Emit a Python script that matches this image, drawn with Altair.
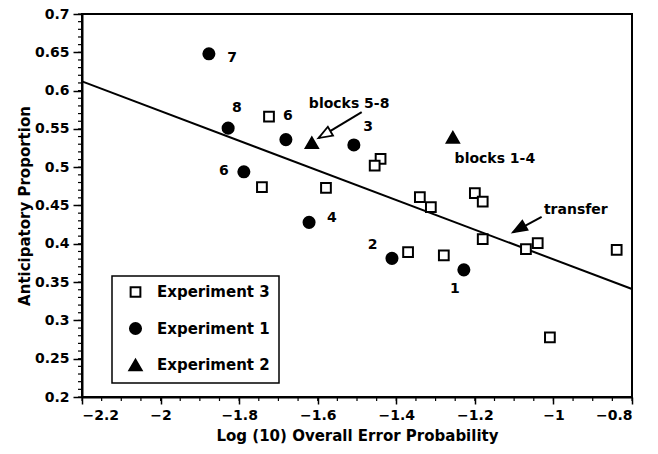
import altair as alt
import pandas as pd

# ---- data ----
exp3_x = [-1.724, -1.742, -1.579, -1.440, -1.455, -1.340, -1.312, -1.200, -1.180,
          -1.370, -1.279, -1.180, -1.070, -1.040, -0.839, -1.009]
exp3_y = [0.566, 0.474, 0.473, 0.511, 0.502, 0.461, 0.448, 0.466, 0.455,
          0.389, 0.385, 0.406, 0.393, 0.401, 0.392, 0.278]

exp1_x = [-1.877, -1.828, -1.681, -1.788, -1.508, -1.622, -1.411, -1.228]
exp1_y = [0.648, 0.551, 0.536, 0.494, 0.529, 0.428, 0.381, 0.366]

exp2_x = [-1.615, -1.256]
exp2_y = [0.532, 0.539]

fit_x = [-2.2, -0.8]
fit_y = [0.612, 0.341]

label_text = ["7", "8", "6", "6", "3", "4", "2", "1", "blocks 5-8", "blocks 1-4", "transfer"]
label_x = [-1.818, -1.806, -1.676, -1.839, -1.472, -1.564, -1.460, -1.251, -1.520, -1.149, -0.943]
label_y = [0.643, 0.577, 0.567, 0.495, 0.552, 0.434, 0.398, 0.341, 0.583, 0.511, 0.444]

# arrows: tail -> tip
arrow_x1 = [-1.488, -1.030]
arrow_y1 = [0.572, 0.435]
arrow_x2 = [-1.598, -1.103]
arrow_y2 = [0.538, 0.415]
arrow_fill = ["white", "black"]

x_major = [-2.2, -2.0, -1.8, -1.6, -1.4, -1.2, -1.0, -0.8]
y_major = [0.2, 0.25, 0.3, 0.35, 0.4, 0.45, 0.5, 0.55, 0.6, 0.65, 0.7]
x_minor = [round(-2.2 + 0.05 * i, 2) for i in range(29)]
y_minor = [round(0.2 + 0.01 * i, 2) for i in range(51)]

groups = ["Experiment 3", "Experiment 1", "Experiment 2"]

FONT = "DejaVu Sans"
W, H = 550, 383

pts = pd.DataFrame(
    {"x": exp3_x + exp1_x + exp2_x,
     "y": exp3_y + exp1_y + exp2_y,
     "g": ["Experiment 3"] * len(exp3_x) + ["Experiment 1"] * len(exp1_x) + ["Experiment 2"] * len(exp2_x)}
)
fit = pd.DataFrame({"x": fit_x, "y": fit_y})
labels = pd.DataFrame({"t": label_text, "x": label_x, "y": label_y})
arrows = pd.DataFrame({"x": arrow_x1, "y": arrow_y1, "x2": arrow_x2, "y2": arrow_y2, "f": arrow_fill})
xmin_df = pd.DataFrame({"x": x_minor})
ymin_df = pd.DataFrame({"y": y_minor})

xs = alt.Scale(domain=[-2.2, -0.8], nice=False, zero=False)
ys = alt.Scale(domain=[0.2, 0.7], nice=False, zero=False)

xax = alt.Axis(values=x_major, format="~g", title="Log (10) Overall Error Probability",
               orient="bottom", tickSize=7, labelPadding=4, titlePadding=6, grid=False,
               labelFontSize=14, titleFontSize=15)
yax = alt.Axis(values=y_major, format="~g", title="Anticipatory Proportion",
               orient="left", tickSize=9, labelPadding=4, titlePadding=2, grid=False,
               labelFontSize=14, titleFontSize=15)


def X(field):
    return alt.X(field, type="quantitative", scale=xs, axis=xax,
                 title="Log (10) Overall Error Probability")


def Y(field):
    return alt.Y(field, type="quantitative", scale=ys, axis=yax,
                 title="Anticipatory Proportion")


line = alt.Chart(fit).mark_line(color="black", strokeWidth=2).encode(
    x=X("x"), y=Y("y"),
)

xminor = alt.Chart(xmin_df).mark_rule(color="black", strokeWidth=1.2).encode(
    x=X("x"), y=alt.value(H), y2=alt.value(H + 4)
)
yminor = alt.Chart(ymin_df).mark_rule(color="black", strokeWidth=1.2).encode(
    y=Y("y"), x=alt.value(-4), x2=alt.value(0)
)

points = alt.Chart(pts).mark_point(filled=True, strokeWidth=2, opacity=1).encode(
    x=X("x"),
    y=Y("y"),
    shape=alt.Shape("g:N", scale=alt.Scale(domain=groups, range=["square", "circle", "triangle-up"]),
                    legend=alt.Legend(title=None)),
    fill=alt.Fill("g:N", scale=alt.Scale(domain=groups, range=["white", "black", "black"]),
                  legend=alt.Legend(title=None)),
    stroke=alt.Stroke("g:N", scale=alt.Scale(domain=groups, range=["black", "black", "black"]),
                      legend=alt.Legend(title=None)),
    size=alt.Size("g:N", scale=alt.Scale(domain=groups, range=[95, 150, 110]),
                  legend=alt.Legend(title=None)),
)

shafts = alt.Chart(arrows).mark_rule(color="black", strokeWidth=2).encode(
    x=X("x"), y=Y("y"), x2="x2:Q", y2="y2:Q"
)
# arrowhead path: tip at origin, body extending "down" before rotation
heads = alt.Chart(arrows).mark_point(shape="M0,0L0.75,2L-0.75,2Z", filled=True, stroke="black",
                                     strokeWidth=1.8, size=190, angle=240, opacity=1).encode(
    x=X("x2"), y=Y("y2"),
    fill=alt.Fill("f:N", scale=None, legend=None),
)

text = alt.Chart(labels).mark_text(font=FONT, fontWeight="bold", fontSize=14, color="black").encode(
    x=X("x"), y=Y("y"), text="t:N"
)

chart = alt.layer(line, xminor, yminor, points, shafts, heads, text).properties(
    width=W, height=H,
    autosize=alt.AutoSizeParams(type="none"),
    padding={"left": 82, "top": 14, "right": 26, "bottom": 57},
    background="white",
).configure_view(
    stroke="black", strokeWidth=2
).configure_axis(
    domainColor="black", domainWidth=2, tickColor="black", tickWidth=1.5,
    labelColor="black", titleColor="black",
    labelFont=FONT, titleFont=FONT, labelFontWeight="bold", titleFontWeight="bold",
).configure_legend(
    orient="none", legendX=30, legendY=262,
    strokeColor="black", strokeWidth=1.5, fillColor="white",
    padding=8.5, rowPadding=16.5, symbolOffset=7.5, labelOffset=14,
    labelFont=FONT, labelFontWeight="bold", labelFontSize=15, labelColor="black",
    symbolStrokeColor="black", symbolStrokeWidth=2,
)

chart.save("out.html", embed_options={"renderer": "svg", "actions": False})
